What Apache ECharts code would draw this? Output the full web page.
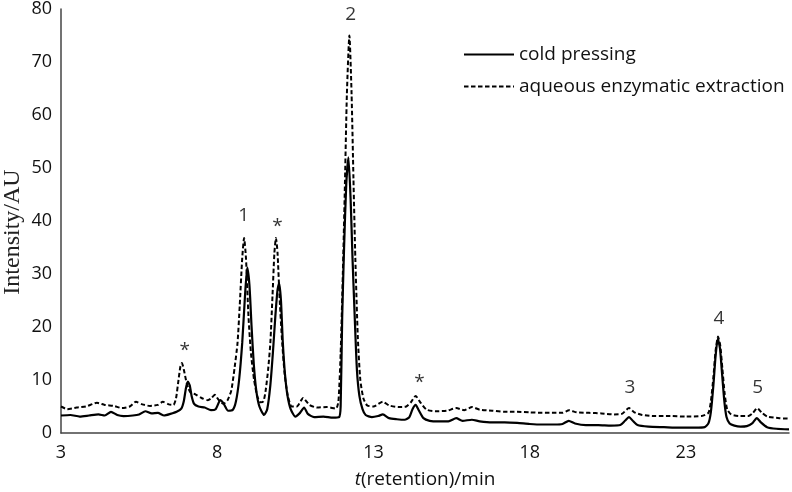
<!DOCTYPE html>
<html>
<head>
<meta charset="utf-8">
<script src="https://cdn.jsdelivr.net/npm/echarts@6/dist/echarts.min.js"></script>
<style>html,body{margin:0;padding:0;background:#fff}#c{width:792px;height:492px}</style>
</head>
<body>
<div id="c"></div>
<script>
// retention time (min) and intensity (AU) for cold pressing
var coldTime = [3.0,3.3,3.6,3.9,4.2,4.4,4.6,4.8,5.0,5.3,5.5,5.7,5.9,6.1,6.3,6.5,6.7,6.85,6.93,7.0,7.06,7.12,7.18,7.26,7.4,7.6,7.8,7.95,8.1,8.2,8.35,8.5,8.6,8.7,8.8,8.88,8.96,9.03,9.1,9.17,9.25,9.35,9.5,9.6,9.7,9.78,9.86,9.93,9.98,10.04,10.1,10.17,10.25,10.35,10.5,10.65,10.78,10.9,11.1,11.4,11.7,11.9,11.95,12.0,12.06,12.13,12.2,12.27,12.33,12.4,12.47,12.55,12.65,12.75,12.95,13.15,13.3,13.5,13.75,14.0,14.15,14.25,14.35,14.45,14.6,14.8,15.1,15.4,15.65,15.85,16.15,16.4,16.8,17.2,17.6,18.0,18.4,18.8,19.05,19.25,19.45,19.8,20.2,20.6,20.9,21.05,21.18,21.3,21.45,21.8,22.3,22.8,23.3,23.6,23.72,23.8,23.88,23.95,24.02,24.09,24.16,24.23,24.3,24.4,24.55,24.75,24.95,25.12,25.27,25.4,25.6,25.9,26.3];
var coldValue = [3.3,3.4,3.1,3.3,3.5,3.3,4.0,3.4,3.2,3.3,3.5,4.1,3.7,3.8,3.3,3.6,4.0,4.6,6,8.5,9.7,9,7,5.5,5.0,4.8,4.3,4.5,6.2,5.6,4.2,4.4,6,10,17,25,31.2,28,20,13,8,5,3.4,4.5,9,15,22,27,28.3,25,17,11,7,4.5,3.1,3.8,4.8,3.6,3.0,3.1,2.9,3.0,5,22,35,47,52,44,33,22,12,7,4.5,3.4,3.0,3.2,3.5,2.8,2.6,2.5,3.0,4.5,5.3,4.3,2.8,2.3,2.2,2.2,2.8,2.3,2.5,2.2,2.0,2.0,1.9,1.7,1.6,1.6,1.7,2.3,1.8,1.5,1.5,1.4,1.5,2.3,3.0,2.3,1.5,1.2,1.1,1.0,1.0,1.1,1.8,4,9,14.5,17.8,16,11,6,3,1.8,1.4,1.2,1.3,1.8,2.8,2.0,1.1,0.8,0.7];

// retention time (min) and intensity (AU) for aqueous enzymatic extraction
var aqTime = [3.0,3.2,3.5,3.8,4.15,4.4,4.7,4.95,5.2,5.4,5.6,5.85,6.1,6.26,6.45,6.6,6.68,6.75,6.82,6.87,6.93,7.0,7.07,7.15,7.3,7.5,7.7,7.8,7.92,8.05,8.2,8.33,8.45,8.56,8.65,8.72,8.8,8.86,8.92,9.0,9.08,9.18,9.28,9.38,9.48,9.55,9.63,9.7,9.77,9.83,9.88,9.93,10.0,10.08,10.16,10.26,10.38,10.55,10.75,10.95,11.2,11.5,11.8,11.88,11.95,12.02,12.08,12.15,12.23,12.3,12.36,12.42,12.5,12.58,12.68,12.8,13.0,13.3,13.5,13.8,14.05,14.2,14.35,14.5,14.7,15.0,15.35,15.65,15.9,16.16,16.4,16.8,17.2,17.6,18.0,18.4,18.8,19.05,19.26,19.5,19.9,20.3,20.7,20.95,21.18,21.35,21.6,22.0,22.5,23.0,23.5,23.72,23.8,23.88,23.95,24.03,24.1,24.17,24.24,24.32,24.45,24.7,25.0,25.15,25.28,25.42,25.6,26.0,26.3];
var aqValue = [5.0,4.5,4.8,5.0,5.7,5.3,5.1,4.7,5.0,5.9,5.4,5.1,5.3,5.9,5.4,5.3,6.5,9.5,12.5,13.2,12,10,8.5,7.6,7.3,6.6,6.2,6.5,7.2,6.2,5.5,6.2,8,12.5,17,24,33,36.8,33,22,15,10,7,5.8,6,8,12,17,26,34,36.8,34,25,17,11,7,5,5.0,6.6,5.3,4.8,4.9,4.6,6,15,30,45,64,75,64,48,33,18,10,6.5,5.2,5.0,5.9,5.2,4.9,5.0,5.8,7.0,5.8,4.4,4.1,4.2,4.7,4.3,4.9,4.4,4.2,4.0,4.0,3.9,3.8,3.8,3.8,4.3,3.9,3.8,3.7,3.5,3.6,4.7,3.9,3.4,3.2,3.2,3.1,3.2,3.8,6,10.5,15.5,18.2,16.5,12,7.5,4.5,3.5,3.2,3.2,3.8,4.7,3.9,3.1,2.8,2.7];

// peak annotations
var peakText = ['*','1','*','2','*','3','4','5'];
var peakTime = [6.96,8.85,9.93,12.27,14.47,21.21,24.06,25.3];
var peakLevel = [15.5,41,39,79,9.5,8.5,21.5,8.5];

// axis ticks
var xTicks = [3,8,13,18,23];

function pairs(t, v){ return t.map(function(x,i){ return [x, v[i]]; }); }

var chart = echarts.init(document.getElementById('c'), null, {renderer:'canvas'});
var font = 'Open Sans';
chart.setOption({
  animation: false,
  backgroundColor: '#fff',
  grid: {left: 61, right: 3, top: 9, bottom: 59, containLabel: false, outerBoundsMode: 'none'},
  legend: {
    orient: 'vertical', left: 458, top: 40, itemWidth: 50, itemHeight: 14, itemGap: 13,
    itemStyle: {opacity: 0},
    textStyle: {fontFamily: font, fontSize: 19, color: '#111'},
    data: ['cold pressing', 'aqueous enzymatic extraction']
  },
  xAxis: {
    type: 'value', min: 3, max: 26.3, interval: 5,
    axisLine: {show: true, lineStyle: {color: '#444', width: 1.5}},
    axisTick: {show: false}, splitLine: {show: false},
    axisLabel: {fontFamily: font, fontSize: 18, color: '#111', margin: 11,
      customValues: xTicks, formatter: function(v){ return xTicks.indexOf(v) >= 0 ? String(v) : ''; }},
    name: '{i|t}(retention)/min', nameLocation: 'middle', nameGap: 37,
    nameTextStyle: {fontFamily: font, fontSize: 19, color: '#111', rich: {i: {fontFamily: font, fontSize: 19, fontStyle: 'italic', color: '#111'}}}
  },
  yAxis: {
    type: 'value', min: 0, max: 80, interval: 10,
    axisLine: {show: true, lineStyle: {color: '#444', width: 1.5}},
    axisTick: {show: false}, splitLine: {show: false},
    axisLabel: {fontFamily: font, fontSize: 18, color: '#111', margin: 9},
    name: 'Intensity/AU', nameLocation: 'middle', nameGap: 36, nameMoveOverlap: false,
    nameTextStyle: {fontFamily: 'Liberation Serif', fontSize: 24, color: '#222', padding: [0, 22, 0, 0]}
  },
  series: [
    {name: 'cold pressing', type: 'line', data: pairs(coldTime, coldValue), symbol: 'none', smooth: 0.2,
     lineStyle: {color: '#000', width: 2.2}, itemStyle: {color: '#000'}},
    {name: 'aqueous enzymatic extraction', type: 'line', data: pairs(aqTime, aqValue), symbol: 'none', smooth: 0.2,
     lineStyle: {color: '#000', width: 2, type: [4.5, 2.5]}, itemStyle: {color: '#000'}},
    {name: 'peaks', type: 'scatter', symbolSize: 0, silent: true,
     data: peakTime.map(function(t,i){ return {value: [t, peakLevel[i]], label: {formatter: peakText[i]}}; }),
     label: {show: true, position: 'inside', fontFamily: font, fontSize: 19, color: '#000'}}
  ]
});
</script>
</body>
</html>
